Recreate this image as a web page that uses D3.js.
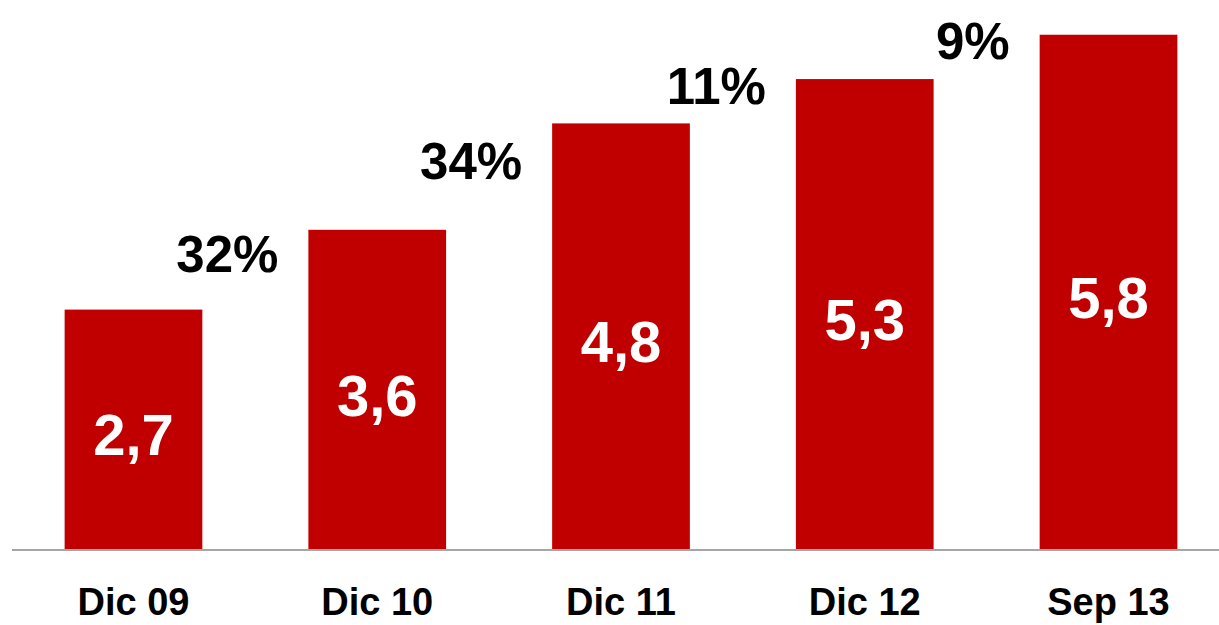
<!DOCTYPE html>
<html>
<head>
<meta charset="utf-8">
<script src="https://cdn.jsdelivr.net/npm/d3@7"></script>
<style>
  body { margin: 0; background: #fff; }
  text { font-family: "Liberation Sans", Arial, sans-serif; font-weight: bold; }
</style>
</head>
<body>
<div id="chart"></div>
<script>
var categories = ["Dic 09", "Dic 10", "Dic 11", "Dic 12", "Sep 13"];
var values = [2.7, 3.6, 4.8, 5.3, 5.8];
var valueLabels = ["2,7", "3,6", "4,8", "5,3", "5,8"];
var growthLabels = ["32%", "34%", "11%", "9%"];

var width = 1219, height = 625;
var baseY = 549;

var svg = d3.select("#chart").append("svg")
	.attr("width", width)
	.attr("height", height);

var x = d3.scaleBand()
	.domain(categories)
	.range([11, 1231])
	.paddingInner(0.435)
	.paddingOuter(0.22);

var y = d3.scaleLinear()
	.domain([0, 6])
	.range([baseY, baseY - 532]);

// bars
svg.selectAll("rect.bar")
	.data(values)
	.enter().append("rect")
	.attr("class", "bar")
	.attr("x", function(d, i) { return x(categories[i]); })
	.attr("y", function(d) { return y(d); })
	.attr("width", x.bandwidth())
	.attr("height", function(d) { return y(0) - y(d); })
	.attr("fill", "#C00000");

// axis line
svg.append("line")
	.attr("x1", 12).attr("x2", width)
	.attr("y1", baseY + 1).attr("y2", baseY + 1)
	.attr("stroke", "#A6A6A6")
	.attr("stroke-width", 2);

// value labels inside bars
svg.selectAll("text.val")
	.data(values)
	.enter().append("text")
	.attr("class", "val")
	.attr("x", function(d, i) { return x(categories[i]) + x.bandwidth() / 2; })
	.attr("y", function(d) { return (y(d) + y(0)) / 2; })
	.attr("dy", "0.45em")
	.attr("text-anchor", "middle")
	.attr("fill", "#fff")
	.style("font-size", "58px")
	.text(function(d, i) { return valueLabels[i]; });

// growth labels between bars
svg.selectAll("text.growth")
	.data(growthLabels)
	.enter().append("text")
	.attr("class", "growth")
	.attr("x", function(d, i) { return x(categories[i + 1]) - 30; })
	.attr("y", function(d, i) { return (y(values[i]) + y(values[i + 1])) / 2; })
	.attr("dy", "0.05em")
	.attr("text-anchor", "end")
	.attr("fill", "#000")
	.style("font-size", "51px")
	.text(function(d) { return d; });

// category labels
svg.selectAll("text.cat")
	.data(categories)
	.enter().append("text")
	.attr("class", "cat")
	.attr("x", function(d) { return x(d) + x.bandwidth() / 2; })
	.attr("y", 615)
	.attr("text-anchor", "middle")
	.attr("fill", "#000")
	.style("font-size", "38px")
	.text(function(d) { return d; });
</script>
</body>
</html>
